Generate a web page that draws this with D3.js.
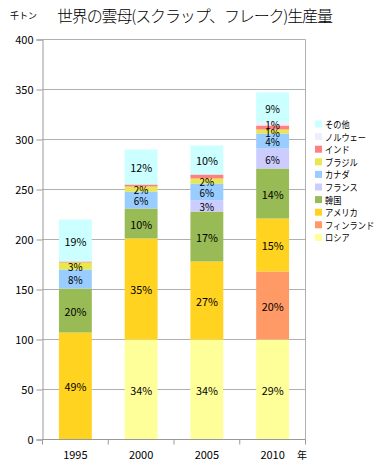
<!DOCTYPE html>
<html><head><meta charset="utf-8">
<script src="https://cdn.jsdelivr.net/npm/d3@7"></script>
<style>
body{margin:0;background:#fff;}
text{font-family:"Noto Sans CJK JP","DejaVu Sans",sans-serif;}
</style></head>
<body><svg id="c" width="383" height="470"></svg>
<script>
const years = ["1995","2000","2005","2010"];
const seriesNames = ["ロシア","フィンランド","アメリカ","韓国","フランス","カナダ","ブラジル","インド","ノルウェー","その他"];
const russia  = [0, 100, 100, 100];
const finland = [0, 0, 0, 68];
const usa     = [107, 101, 78, 53];
const korea   = [44, 30, 50, 50];
const france  = [0, 0, 11, 20];
const canada  = [19, 17, 17, 15];
const brazil  = [7, 5, 5, 4];
const india   = [1, 2, 4, 4];
const norway  = [0, 0, 0, 3];
const other   = [42, 35, 29, 30];
const lblRussia  = [null,"34%","34%","29%"];
const lblFinland = [null,null,null,"20%"];
const lblUsa     = ["49%","35%","27%","15%"];
const lblKorea   = ["20%","10%","17%","14%"];
const lblFrance  = [null,null,"3%","6%"];
const lblCanada  = ["8%","6%","6%","4%"];
const lblBrazil  = ["3%","2%","2%","1%"];
const lblIndia   = [null,null,null,null];
const lblNorway  = [null,null,null,"1%"];
const lblOther   = ["19%","12%","10%","9%"];
const yTicks = [0,50,100,150,200,250,300,350,400];

const values = [russia,finland,usa,korea,france,canada,brazil,india,norway,other];
const labels = [lblRussia,lblFinland,lblUsa,lblKorea,lblFrance,lblCanada,lblBrazil,lblIndia,lblNorway,lblOther];
const colors = ["#FFFF99","#FF9966","#FFD320","#99BB55","#CCCCFF","#99CCFF","#E8E84C","#FF8080","#EEEEFF","#CCFFFF"];

const table = years.map((yr,i)=>{const o={year:yr}; seriesNames.forEach((s,j)=>o[s]=values[j][i]); return o;});
const stacked = d3.stack().keys(seriesNames)(table);

const svg = d3.select("#c");
const L=42.5, R=305.5, T=39.5, B=439.5;
const x = d3.scaleBand().domain(years).range([L,R]).paddingInner(0.5).paddingOuter(0.25);
const y = d3.scaleLinear().domain([0,400]).range([B,T]);

// gridlines
svg.append("g").selectAll("line").data(yTicks.filter(d=>d>0)).join("line")
  .attr("x1",L).attr("x2",R).attr("y1",d=>y(d)).attr("y2",d=>y(d))
  .attr("stroke","#b0b0b0").attr("stroke-width",1);
svg.append("line").attr("x1",R).attr("x2",R).attr("y1",T).attr("y2",B).attr("stroke","#b0b0b0");

// bars
stacked.forEach((s,j)=>{
  svg.append("g").selectAll("rect").data(s).join("rect")
    .attr("x",d=>x(d.data.year)).attr("width",x.bandwidth())
    .attr("y",d=>y(d[1])).attr("height",d=>y(d[0])-y(d[1]))
    .attr("fill",colors[j]);
});
stacked.forEach((s,j)=>{
  svg.append("g").selectAll("text").data(s.filter((d,i)=>labels[j][i])).join("text")
    .attr("x",d=>x(d.data.year)+x.bandwidth()/2)
    .attr("y",d=>(y(d[0])+y(d[1]))/2)
    .attr("text-anchor","middle").attr("dominant-baseline","central")
    .attr("font-size",11).attr("fill","#000").attr("font-family","DejaVu Sans, sans-serif")
    .attr("textLength",d=>labels[j][years.indexOf(d.data.year)].length*7.3).attr("lengthAdjust","spacingAndGlyphs")
    .text(d=>labels[j][years.indexOf(d.data.year)]);
});

// y axis
const yAxis = d3.axisLeft(y).tickValues(yTicks).tickSize(6).tickPadding(3);
const gy = svg.append("g").attr("transform",`translate(${L},0)`).call(yAxis);
gy.selectAll("path,line").attr("stroke","#999");
gy.selectAll("text").attr("font-size",11).attr("fill","#000").attr("font-family","DejaVu Sans, sans-serif");

// x axis
const gx = svg.append("g").attr("transform",`translate(0,${B})`);
gx.append("line").attr("x1",L).attr("x2",R).attr("stroke","#999");
const bounds = years.map(d=>x(d)-x.step()*0.25).concat([R]);
gx.selectAll("line.t").data(bounds).join("line").attr("class","t")
  .attr("x1",d=>d).attr("x2",d=>d).attr("y1",0).attr("y2",5).attr("stroke","#999");
gx.selectAll("text").data(years).join("text")
  .attr("x",d=>x(d)+x.bandwidth()/2).attr("y",19)
  .attr("text-anchor","middle").attr("font-size",11).attr("font-family","DejaVu Sans, sans-serif").text(d=>d);
svg.append("text").attr("x",302).attr("y",459).attr("text-anchor","middle").attr("font-size",10).text("年");

// titles
svg.append("text").attr("x",10).attr("y",19).attr("font-size",9).text("千トン");
svg.append("text").attr("x",57).attr("y",22).attr("font-size",16).attr("font-weight",300).attr("textLength",276).text("世界の雲母(スクラップ、フレーク)生産量");

// legend
const leg = svg.append("g");
const legOrder = seriesNames.slice().reverse();
legOrder.forEach((s,i)=>{
  const cy = 124 + i*12.6;
  leg.append("rect").attr("x",315).attr("y",cy-3.5).attr("width",7).attr("height",7)
    .attr("fill",colors[seriesNames.indexOf(s)]);
  leg.append("text").attr("x",325).attr("y",cy).attr("dominant-baseline","central")
    .attr("font-size",9.5).attr("textLength",s.length*8.2).attr("lengthAdjust","spacingAndGlyphs").text(s);
});
</script></body></html>
